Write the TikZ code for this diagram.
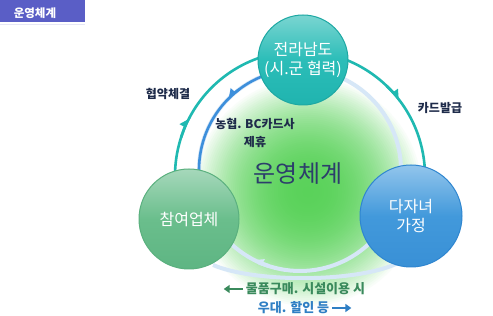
\documentclass[tikz,border=0pt]{standalone}
\usepackage{fontspec}
\setmainfont{Noto Sans CJK KR}
\usetikzlibrary{arrows.meta,calc}
\definecolor{tealarc}{HTML}{1FB9B1}
\definecolor{bluearc}{HTML}{3D8FDB}
\definecolor{paleblue}{HTML}{D6E7F7}
\definecolor{navy}{HTML}{1E2B4A}
\definecolor{bignavy}{HTML}{2C3E6B}
\definecolor{titlebg}{HTML}{5A5EC6}
\definecolor{greentxt}{HTML}{3A8A5C}
\definecolor{bluetxt}{HTML}{2F7FC4}
\definecolor{gA}{HTML}{5AD25A}
\definecolor{tealT}{HTML}{7AD5D1}
\definecolor{tealM}{HTML}{2BBDB8}
\definecolor{tealB}{HTML}{20B4AF}
\definecolor{tealE}{HTML}{1DA8A3}
\definecolor{grnT}{HTML}{A6D8BB}
\definecolor{grnM}{HTML}{6ABE8C}
\definecolor{grnB}{HTML}{5EB583}
\definecolor{grnE}{HTML}{5AB07E}
\definecolor{bluT}{HTML}{92C5EC}
\definecolor{bluM}{HTML}{4299DB}
\definecolor{bluB}{HTML}{3990D6}
\definecolor{bluE}{HTML}{2F86D0}
\tikzset{
  ringnode/.style={circle, inner sep=0pt, align=center, text=white,
    font=\fontsize{16}{19}\selectfont, line width=1pt},
  lbl/.style={font=\fontsize{12}{18}\selectfont\bfseries, text=navy, inner sep=1pt, align=center},
  bottxt/.style={font=\fontsize{13}{16}\selectfont\bfseries, inner sep=1pt},
  bigtxt/.style={font=\fontsize{24}{28}\selectfont, text=bignavy, inner sep=1pt},
  titletxt/.style={font=\fontsize{11.5}{14}\selectfont\bfseries, text=white, inner sep=0pt},
  tealline/.style={tealarc, line width=2.6pt},
  blueline/.style={bluearc, line width=2.6pt},
  paleline/.style={paleblue, line width=4pt},
  harp/.style={-{Triangle[harpoon,length=9pt,width=11pt]}},
  harpswap/.style={-{Triangle[harpoon,swap,length=9pt,width=11pt]}},
  textarrow/.style={line width=2.5pt, -{Triangle[length=6pt,width=8pt]}}
}
\begin{document}
\begin{tikzpicture}[x=1pt,y=1pt]
\useasboundingbox (0,0) rectangle (493,316);
\fill[white] (0,0) rectangle (493,316);
% title
\fill[titlebg] (0,294) rectangle (85,316);
\draw[titlebg!15, line width=1pt] (0,291.5) -- (85,291.5);
\node[titletxt] (title) at (35,303) {운영체계};
% green blob (concentric discs)
\foreach \i in {0,...,56}{
  \pgfmathsetmacro{\rad}{116-\i*2.05}
  \pgfmathsetmacro{\pc}{100*(1-(\rad/116)^2.2)}
  \fill[gA!\pc!white] (308,124) circle (\rad);
}
% inner ring
\draw[paleline] (300,146) circle (101);
\draw[blueline] (300,146) ++(100:101) arc (100:182:101);
\draw[blueline, harpswap] (300,146) ++(127:101) arc (127:136:101);
\draw[paleline, harpswap] (300,146) ++(252:101) arc (252:242:101);
% outer ring
\draw[tealline] (300,140) ++(95:125) arc (95:200:125);
\draw[tealline] (300,140) ++(85:125) arc (85:-20:125);
\draw[tealline, harp] (300,140) ++(162:125) arc (162:152:125);
\draw[tealline, harp] (300,140) ++(46:125) arc (46:37:125);
\draw[paleline] (213,51) .. controls (255,33) and (360,33) .. (400,54);
% nodes
\node[ringnode, draw=tealE, top color=tealT, bottom color=tealB, middle color=tealM, minimum size=90pt] (jeonnam) at (303,256) {전라남도\\(시.군 협력)};
\node[ringnode, draw=grnE, top color=grnT, bottom color=grnB, middle color=grnM, minimum size=100pt] (company) at (189,97) {참여업체};
\node[ringnode, draw=bluE, top color=bluT, bottom color=bluB, middle color=bluM, minimum size=102pt] (family) at (411,100) {다자녀\\가정};
% labels
\node[lbl] (agree) at (168,222) {협약체결};
\node[lbl] (card) at (440,208) {카드발급};
\node[lbl] (nh) at (255,183) {농협. BC카드사\\제휴};
\node[bigtxt] (center) at (298,142) {운영체계};
\node[bottxt, text=greentxt] (buy) at (305.5,27) {물품구매. 시설이용 시};
\node[bottxt, text=bluetxt] (disc) at (293.5,8) {우대. 할인 등};
\coordinate (gs) at ($(buy.west)+(-2,0)$);
\coordinate (ge) at ($(buy.west)+(-21,0)$);
\draw[greentxt, textarrow] (gs) -- (ge);
\coordinate (bs) at ($(disc.east)+(2,0)$);
\coordinate (be) at ($(disc.east)+(21,0)$);
\draw[bluetxt, textarrow] (bs) -- (be);
\end{tikzpicture}
\end{document}
